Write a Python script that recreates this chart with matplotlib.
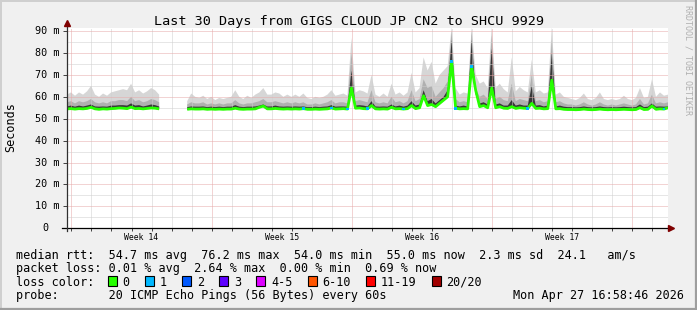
import numpy as np
import matplotlib
matplotlib.use("Agg")
import matplotlib.pyplot as plt
from matplotlib.patches import Rectangle
import matplotlib.transforms as mtransforms

nan = np.nan

# ---------------- data ----------------
# time axis: days since the left edge of the graph, one sample every 0.2 day
t = np.arange(151) * 0.2

top = [61, 62, 60.5, 62, 61, 62.5, 65, 61, 60, 61.5, 60.5, 62, 62.5, 63, 63.5, 63, 66, 62, 63, 61.5, 62.5, 64, 63, 61,
       nan, nan, nan, nan, nan, nan,
       58, 61.5, 60, 59.5, 60.5, 59, 60, 58.5, 59.5, 59, 59.5, 60, 63, 60, 59, 60.5, 59.5, 61, 62, 64, 61,
       61, 62, 61.5, 60, 61, 60, 61, 60, 61.5, 59.5, 59, 60, 59.5, 60, 61, 63, 60.5, 61, 61.5, 60.5, 87, 62, 63, 62.5, 61.5,
       70, 61, 60, 61.5, 60, 66, 61, 62, 60.5, 62, 71, 62, 64, 78, 72, 76, 66, 70, 72, 74, 92, 64, 61, 62, 61.5,
       92, 70, 66, 67, 64, 92, 64, 66, 63.5, 62, 78, 62.5, 64.5, 63, 62, 77, 62, 63, 61.5, 62, 92, 61, 62, 60, 59.5,
       59, 58.5, 59.5, 61.5, 59, 58.5, 59.5, 62, 59, 58.5, 59, 58.5, 59, 60.5, 59, 58.5, 59.5, 64, 59.5, 60, 68, 60, 62, 60.5, 61]

p90 = [57.5, 58, 57, 58, 57.5, 58, 59, 57.5, 57, 57.5, 57, 58, 58, 58.5, 58.5, 58, 60, 58, 58.5, 57.5, 58, 59, 58.5, 57.5,
       nan, nan, nan, nan, nan, nan,
       56.5, 57.5, 57, 57, 57.5, 56.5, 57, 56.5, 57, 56.5, 57, 57, 58.5, 57, 56.5, 57, 57, 57.5, 58, 59, 57.5,
       57.5, 58, 57.5, 57, 57.5, 57, 57.5, 57, 57.5, 56.5, 56.5, 57, 56.5, 57, 57.5, 58.5, 57, 57.5, 57.5, 57, 80, 58, 58.5, 58, 57.5,
       63, 57.5, 57, 57.5, 57, 60, 57.5, 58, 57, 58, 63, 58, 59, 68, 64, 65, 60, 62, 64, 67, 90, 59, 57.5, 58, 57.5,
       90, 64, 60, 61, 59, 88, 59, 60, 58.5, 58, 66, 58, 59, 58.5, 58, 70, 58, 58.5, 57.5, 58, 86, 57.5, 58, 57, 56.5,
       56.5, 56, 56.5, 57.5, 56.5, 56, 56.5, 57.5, 56.5, 56, 56.5, 56, 56.5, 57, 56.5, 56, 56.5, 59, 56.5, 57, 61, 57, 57.5, 57, 57.5]

p75 = [55.6, 56, 55.5, 56, 55.6, 56, 56.5, 55.6, 55.5, 55.6, 55.5, 56, 56, 56.2, 56.2, 56, 57, 56, 56.2, 55.6, 56, 56.5, 56.2, 55.6,
       nan, nan, nan, nan, nan, nan,
       55.3, 55.6, 55.5, 55.5, 55.6, 55.3, 55.5, 55.3, 55.5, 55.3, 55.5, 55.5, 56.2, 55.5, 55.3, 55.5, 55.5, 55.6, 56, 56.5, 55.6,
       55.6, 56, 55.6, 55.5, 55.6, 55.5, 55.6, 55.5, 55.6, 55.3, 55.3, 55.5, 55.3, 55.5, 55.6, 56.2, 55.5, 55.6, 55.6, 55.5, 72, 56, 56.2, 56, 55.6,
       58, 55.6, 55.5, 55.6, 55.5, 56.5, 55.6, 56, 55.5, 56, 58, 56, 56.5, 63, 58, 59, 57, 58.5, 60, 63, 86, 56, 55.6, 56, 55.6,
       86, 61, 57, 57.5, 56.5, 82, 56.5, 57, 56, 56, 58.5, 56, 56.5, 56, 56, 65, 56, 56.2, 55.6, 56, 80, 55.6, 56, 55.5, 55.3,
       55.3, 55.2, 55.3, 55.6, 55.3, 55.2, 55.3, 55.6, 55.3, 55.2, 55.3, 55.2, 55.3, 55.5, 55.3, 55.2, 55.3, 56.5, 55.3, 55.5, 57, 55.5, 55.6, 55.5, 55.6]

med = [54.5, 54.6, 54.4, 54.6, 54.5, 54.7, 55.2, 54.5, 54.3, 54.5, 54.4, 54.6, 54.7, 54.9, 54.8, 54.6, 55.3, 54.6, 54.7, 54.5, 54.7, 54.9, 54.8, 54.5,
       nan, nan, nan, nan, nan, nan,
       54.3, 54.5, 54.4, 54.4, 54.5, 54.3, 54.4, 54.3, 54.4, 54.3, 54.4, 54.4, 54.8, 54.4, 54.3, 54.4, 54.4, 54.5, 55.2, 55.8, 54.5,
       54.5, 54.7, 54.5, 54.4, 54.5, 54.4, 54.5, 54.4, 54.6, 54.3, 54.3, 54.4, 54.3, 54.4, 54.5, 54.9, 54.4, 54.5, 54.6, 54.4, 64, 54.8, 54.9, 54.6, 54.5,
       56, 54.5, 54.4, 54.5, 54.4, 55.2, 54.5, 54.6, 54.4, 54.6, 56, 54.6, 55, 60.5, 56, 56.5, 55.5, 57, 58.5, 60, 76.2, 54.8, 54.5, 54.6, 54.5,
       73.7, 63, 55.5, 56, 55, 64, 55, 55.5, 54.8, 54.7, 55.5, 54.7, 55, 54.8, 54.7, 57, 54.7, 54.8, 54.5, 54.6, 67.6, 54.5, 54.6, 54.3, 54.2,
       54.2, 54.1, 54.2, 54.4, 54.2, 54.1, 54.2, 54.4, 54.2, 54.1, 54.2, 54.1, 54.2, 54.3, 54.2, 54.1, 54.2, 55, 54.2, 54.3, 55.8, 54.3, 54.5, 54.4, 55]

# samples with one lost ping (sample index, number lost)
loss_i = [59, 66, 70, 75, 84, 96, 97, 101, 115, 149]
loss_n = [1, 1, 1, 1, 1, 1, 1, 1, 1, 1]

loss_labels = ["0", "1", "2", "3", "4-5", "6-10", "11-19", "20/20"]
loss_colors = ["#26ff00", "#00b8ff", "#0059ff", "#5e00ff", "#dd00ff", "#ff5500", "#ff0000", "#a10000"]

week_labels = ["Week 14", "Week 15", "Week 16", "Week 17"]
ytick_vals = [0, 10, 20, 30, 40, 50, 60, 70, 80, 90]
ytick_labels = ["0", "10 m", "20 m", "30 m", "40 m", "50 m", "60 m", "70 m", "80 m", "90 m"]

title = "Last 30 Days from GIGS CLOUD JP CN2 to SHCU 9929"
line_rtt = "median rtt:  54.7 ms avg  76.2 ms max  54.0 ms min  55.0 ms now  2.3 ms sd  24.1   am/s"
line_loss = "packet loss: 0.01 % avg  2.64 % max  0.00 % min  0.69 % now"
line_probe = "probe:       20 ICMP Echo Pings (56 Bytes) every 60s"
stamp = "Mon Apr 27 16:58:46 2026"

# ---------------- drawing ----------------
plt.rcParams["font.family"] = ["DejaVu Sans Mono"]
W, H = 697, 310
fig = plt.figure(figsize=(W / 100, H / 100), dpi=100, facecolor="#f0f0f0")

def fx(px):
    return px / W

def fy(py):
    return 1 - py / H

PL, PR, PT, PB = 67, 668, 28, 228.3
ax = fig.add_axes([fx(PL), fy(PB), fx(PR - PL), (PB - PT) / H])
ax.set_facecolor("white")
ax.set_xlim(0, 30)
ax.set_ylim(0, 91.4)
for s in ax.spines.values():
    s.set_visible(False)

t = np.asarray(t)
top = np.asarray(top, float)
p90 = np.asarray(p90, float)
p75 = np.asarray(p75, float)
med = np.asarray(med, float)

ax.fill_between(t, med - 0.4, top, color="#d6d6d6", lw=0, zorder=1)
ax.fill_between(t, med - 0.3, p90, color="#b0b0b0", lw=0, zorder=1.1)
ax.fill_between(t, med - 0.2, p75, color="#383838", lw=0, zorder=1.2)

# grid (rrdtool draws it over the graph)
day_lines = np.arange(30) + 0.22
minor_c = "#cfcfcf"
major_c = "#e6a9a9"
for i, d in enumerate(day_lines):
    c = major_c if i % 7 == 0 else minor_c
    ax.axvline(d, color=c, lw=0.72, ls=(0, (1, 1)), zorder=3)
for v in range(5, 91, 5):
    c = major_c if v % 10 == 0 else minor_c
    ax.axhline(v, color=c, lw=0.72, ls=(0, (1, 1)), zorder=3)

# median line and loss colouring
ax.plot(t, med, color=loss_colors[0], lw=2.0, zorder=5, solid_capstyle="butt")
ax.scatter(t[loss_i], med[loss_i], marker="s", s=4, lw=0,
           color=[loss_colors[n] for n in loss_n], zorder=6)

# axes lines and arrows
ax.plot([-5 / 601, 1.0], [0, 0], color="black", lw=0.9, transform=ax.transAxes, clip_on=False, zorder=7)
ax.plot([0, 0], [-3 / 200.3, 1.016], color="#303030", lw=0.9, transform=ax.transAxes, clip_on=False, zorder=7)
ax.plot([1.0 + 3 / 601], [0], marker=">", ms=4.2, color="#7f0000", transform=ax.transAxes, clip_on=False, zorder=8)
ax.plot([0], [1.0 + 4.5 / 200.3], marker="^", ms=4.2, color="#7f0000", transform=ax.transAxes, clip_on=False, zorder=8)

# ticks
ax.set_xticks(day_lines[::7][:4] + 3.5)
ax.set_xticklabels(week_labels, fontsize=5.9)
ax.tick_params(axis="x", which="major", length=0, pad=3.6)
ax.set_xticks(day_lines, minor=True)
ax.tick_params(axis="x", which="minor", length=2.5, width=0.7, direction="out", color="#404040")
ax.set_yticks(ytick_vals)
ax.set_yticklabels([])
ax.tick_params(axis="y", which="major", length=3.2, width=0.7, direction="out", color="#404040")

ytrans = mtransforms.blended_transform_factory(ax.transAxes, ax.transData)
for v, lab in zip(ytick_vals, ytick_labels):
    xr = (59.5 - PL) / 601 if lab.endswith("m") else (48.5 - PL) / 601
    ax.text(xr, v, lab, transform=ytrans, ha="right", va="center", fontsize=7.3)

# texts
fig.text(fx(348.5), fy(24.5), title, ha="center", va="baseline", fontsize=9.7)
fig.text(fx(11), fy(127), "Seconds", rotation=90, ha="center", va="center", fontsize=8.5)
fig.text(fx(688), fy(5), "RRDTOOL / TOBI OETIKER", rotation=270, ha="center", va="top",
         fontsize=6, color="#b0b0b0")

fig.text(fx(16), fy(258.5), line_rtt, ha="left", va="baseline", fontsize=8.5)
fig.text(fx(16), fy(272), line_loss, ha="left", va="baseline", fontsize=8.5)
fig.text(fx(16), fy(285.5), "loss color:", ha="left", va="baseline", fontsize=8.5)
fig.text(fx(16), fy(299), line_probe, ha="left", va="baseline", fontsize=8.5)
fig.text(fx(513), fy(299), stamp, ha="left", va="baseline", fontsize=8.5)

bx = 108
for lab, col in zip(loss_labels, loss_colors):
    fig.add_artist(Rectangle((fx(bx), fy(286)), fx(9), 10 / H, transform=fig.transFigure,
                             facecolor=col, edgecolor="black", lw=0.8))
    fig.text(fx(bx + 14.5), fy(285.5), lab, ha="left", va="baseline", fontsize=8.5)
    bx += 14.5 + 7.12 * len(lab) + 15.5

# 3d border
fig.add_artist(plt.Line2D([0, 1], [1 - 0.5 / H, 1 - 0.5 / H], transform=fig.transFigure, color="#cfcfcf", lw=1.4))
fig.add_artist(plt.Line2D([0.5 / W, 0.5 / W], [0, 1], transform=fig.transFigure, color="#cfcfcf", lw=1.4))
fig.add_artist(plt.Line2D([0, 1], [1 / H, 1 / H], transform=fig.transFigure, color="#9e9e9e", lw=1.6))
fig.add_artist(plt.Line2D([1 - 1 / W, 1 - 1 / W], [0, 1], transform=fig.transFigure, color="#9e9e9e", lw=1.6))

fig.savefig("out.png", dpi=100, facecolor=fig.get_facecolor())
